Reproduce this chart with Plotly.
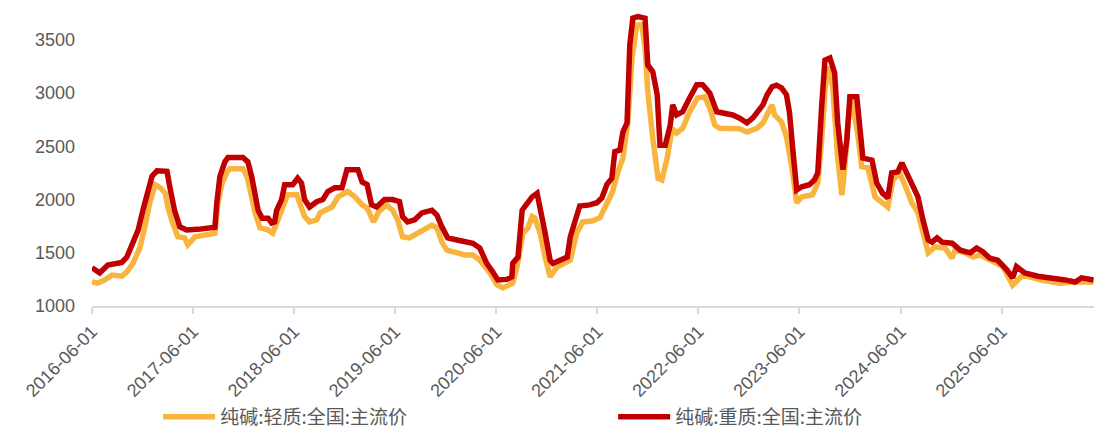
import plotly.graph_objects as go

# 纯碱 light (轻质) national mainstream price
light_dates = [
    "2016-06-01", "2016-06-22", "2016-07-17", "2016-08-12", "2016-09-17", "2016-10-05",
    "2016-10-27", "2016-11-22", "2016-12-09", "2016-12-27", "2017-01-15", "2017-02-03",
    "2017-02-21", "2017-03-02", "2017-03-19", "2017-04-07", "2017-05-02", "2017-05-13",
    "2017-06-08", "2017-07-13", "2017-08-12", "2017-08-19", "2017-08-30", "2017-09-14",
    "2017-10-02", "2017-10-12", "2017-11-28", "2017-12-13", "2017-12-30", "2018-01-11",
    "2018-01-29", "2018-02-27", "2018-03-16", "2018-03-30", "2018-04-17", "2018-05-09",
    "2018-06-11", "2018-06-21", "2018-07-09", "2018-07-27", "2018-08-22", "2018-09-03",
    "2018-09-28", "2018-10-16", "2018-11-07", "2018-12-12", "2019-01-07", "2019-02-02",
    "2019-02-20", "2019-03-08", "2019-03-15", "2019-04-03", "2019-05-01", "2019-05-23",
    "2019-06-10", "2019-06-28", "2019-07-23", "2019-08-22", "2019-09-16", "2019-10-12",
    "2019-10-30", "2019-11-17", "2019-12-05", "2020-01-03", "2020-02-09", "2020-03-08",
    "2020-04-02", "2020-05-09", "2020-06-03", "2020-06-24", "2020-07-30", "2020-08-14",
    "2020-09-05", "2020-09-23", "2020-10-08", "2020-10-18", "2020-11-06", "2020-11-24",
    "2020-12-12", "2021-01-06", "2021-01-28", "2021-02-23", "2021-03-18", "2021-04-09",
    "2021-05-15", "2021-06-10", "2021-07-08", "2021-07-26", "2021-08-14", "2021-09-01",
    "2021-09-19", "2021-10-04", "2021-10-21", "2021-11-09", "2021-11-20", "2021-11-30",
    "2021-12-18", "2022-01-06", "2022-01-20", "2022-02-08", "2022-02-26", "2022-03-14",
    "2022-04-05", "2022-04-30", "2022-05-29", "2022-06-24", "2022-07-12", "2022-07-30",
    "2022-08-17", "2022-10-28", "2022-11-23", "2022-12-29", "2023-01-20", "2023-02-08",
    "2023-02-22", "2023-03-03", "2023-03-28", "2023-04-15", "2023-05-04", "2023-05-22",
    "2023-06-09", "2023-07-18", "2023-08-06", "2023-08-20", "2023-09-01", "2023-09-12",
    "2023-09-29", "2023-10-17", "2023-11-01", "2023-11-12", "2023-11-23", "2023-12-07",
    "2023-12-28", "2024-01-12", "2024-02-03", "2024-02-29", "2024-03-24", "2024-04-15",
    "2024-05-04", "2024-05-28", "2024-06-23", "2024-07-11", "2024-08-02", "2024-08-20",
    "2024-09-08", "2024-10-03", "2024-11-08", "2024-12-03", "2024-12-14", "2025-01-19",
    "2025-02-18", "2025-03-13", "2025-04-18", "2025-06-05", "2025-07-10", "2025-08-16",
    "2025-10-17", "2025-12-28", "2026-02-14", "2026-04-04", "2026-04-28",
]
light_price = [
    1225, 1215, 1245, 1290, 1280, 1320,
    1400, 1555, 1745, 1970, 2140, 2110,
    2060, 1930, 1780, 1650, 1640, 1575,
    1650, 1670, 1685, 1685, 1970, 2155,
    2260, 2290, 2290, 2215, 2025, 1875,
    1735, 1715, 1685, 1780, 1900, 2045,
    2045, 1970, 1840, 1790, 1810, 1875,
    1900, 1930, 2025, 2075, 2025, 1950,
    1920, 1810, 1790, 1885, 1950, 1900,
    1810, 1650, 1640, 1685, 1715, 1760,
    1735, 1600, 1525, 1500, 1480, 1480,
    1430, 1310, 1200, 1170, 1215, 1365,
    1685, 1735, 1840, 1825, 1685, 1460,
    1275, 1365, 1400, 1430, 1685, 1790,
    1800, 1830, 1980, 2075, 2260, 2390,
    2730, 3330, 3640, 3640, 3425, 3010,
    2580, 2200, 2185, 2390, 2670, 2625,
    2670, 2825, 2955, 2965, 2860, 2700,
    2670, 2665, 2635, 2670, 2720, 2815,
    2890, 2795, 2730, 2590, 2310, 1970,
    2025, 2045, 2155, 2560, 3030, 3250,
    3060, 2400, 2040, 2310, 2720, 2935,
    2625, 2310, 2300, 2025, 1970, 1930,
    2185, 2250, 2090, 1970, 1875, 1685,
    1500, 1555, 1545, 1450, 1525, 1500,
    1460, 1480, 1430, 1370, 1195, 1290,
    1245, 1215, 1225, 1225, 1225,
]

# 纯碱 heavy (重质) national mainstream price
heavy_dates = [
    "2016-06-01", "2016-06-29", "2016-07-28", "2016-09-17", "2016-10-05", "2016-10-27",
    "2016-11-15", "2016-12-02", "2016-12-20", "2017-01-04", "2017-01-22", "2017-02-27",
    "2017-03-09", "2017-03-26", "2017-04-14", "2017-05-09", "2017-06-18", "2017-07-20",
    "2017-08-19", "2017-08-26", "2017-09-06", "2017-09-24", "2017-10-05", "2017-11-28",
    "2017-12-16", "2017-12-30", "2018-01-11", "2018-01-22", "2018-02-06", "2018-02-27",
    "2018-03-12", "2018-03-23", "2018-03-30", "2018-04-17", "2018-04-28", "2018-05-27",
    "2018-06-14", "2018-06-28", "2018-07-09", "2018-07-27", "2018-08-22", "2018-09-13",
    "2018-10-01", "2018-10-26", "2018-11-21", "2018-12-09", "2019-01-18", "2019-02-02",
    "2019-02-20", "2019-03-08", "2019-03-26", "2019-04-24", "2019-05-23", "2019-06-17",
    "2019-06-28", "2019-07-16", "2019-08-11", "2019-09-06", "2019-10-12", "2019-10-30",
    "2019-11-17", "2019-12-08", "2020-01-11", "2020-02-09", "2020-03-08", "2020-04-02",
    "2020-04-27", "2020-05-19", "2020-06-06", "2020-07-09", "2020-07-27", "2020-07-30",
    "2020-08-18", "2020-09-02", "2020-09-20", "2020-10-08", "2020-10-26", "2020-11-06",
    "2020-11-24", "2020-12-12", "2020-12-22", "2021-01-17", "2021-02-12", "2021-02-23",
    "2021-03-11", "2021-03-29", "2021-05-04", "2021-05-30", "2021-06-17", "2021-07-05",
    "2021-07-23", "2021-08-03", "2021-08-21", "2021-09-01", "2021-09-16", "2021-09-26",
    "2021-10-07", "2021-10-25", "2021-11-20", "2021-11-30", "2021-12-18", "2022-01-03",
    "2022-01-13", "2022-02-01", "2022-02-19", "2022-02-28", "2022-03-14", "2022-04-05",
    "2022-04-30", "2022-05-26", "2022-06-16", "2022-07-12", "2022-08-06", "2022-08-24",
    "2022-10-03", "2022-10-28", "2022-11-23", "2022-12-14", "2023-01-02", "2023-01-20",
    "2023-02-04", "2023-02-22", "2023-03-10", "2023-03-28", "2023-04-15", "2023-04-26",
    "2023-05-08", "2023-05-22", "2023-06-09", "2023-07-07", "2023-07-25", "2023-08-06",
    "2023-08-20", "2023-09-01", "2023-09-19", "2023-10-06", "2023-10-17", "2023-11-05",
    "2023-11-19", "2023-11-30", "2023-12-25", "2024-01-06", "2024-01-16", "2024-02-18",
    "2024-03-06", "2024-03-27", "2024-04-15", "2024-04-29", "2024-05-21", "2024-06-05",
    "2024-06-23", "2024-07-11", "2024-08-02", "2024-08-20", "2024-09-08", "2024-09-22",
    "2024-10-10", "2024-10-28", "2024-12-03", "2025-01-02", "2025-02-07", "2025-03-02",
    "2025-03-24", "2025-04-18", "2025-05-17", "2025-06-19", "2025-07-10", "2025-07-24",
    "2025-08-23", "2025-10-09", "2025-12-10", "2026-01-15", "2026-02-21", "2026-03-16",
    "2026-04-28",
]
heavy_price = [
    1360, 1310, 1385, 1410, 1460, 1590,
    1715, 1900, 2060, 2220, 2270, 2265,
    2120, 1900, 1745, 1715, 1720, 1730,
    1740, 1970, 2215, 2355, 2395, 2395,
    2355, 2215, 2060, 1900, 1825, 1825,
    1780, 1790, 1900, 2000, 2140, 2140,
    2200, 2155, 2000, 1930, 1980, 2000,
    2075, 2110, 2110, 2280, 2280, 2165,
    2140, 1950, 1930, 2000, 2000, 1980,
    1840, 1790, 1810, 1875, 1900, 1855,
    1745, 1640, 1620, 1600, 1590, 1545,
    1400, 1320, 1245, 1250, 1275, 1400,
    1460, 1900, 1970, 2025, 2060, 1930,
    1685, 1430, 1400, 1430, 1460, 1650,
    1810, 1940, 1950, 1970, 2015, 2140,
    2200, 2450, 2465, 2635, 2720, 3455,
    3705, 3720, 3705, 3265, 3200, 2985,
    2510, 2510, 2700, 2890, 2795, 2825,
    2955, 3080, 3080, 3000, 2825, 2815,
    2795, 2765, 2720, 2765, 2840, 2890,
    2985, 3060, 3075, 3050, 2985, 2815,
    2465, 2090, 2120, 2140, 2185, 2250,
    2870, 3310, 3330, 3190, 2720, 2280,
    2560, 2965, 2965, 2685, 2390, 2370,
    2155, 2060, 2015, 2250, 2260, 2345,
    2250, 2155, 2025, 1810, 1620, 1600,
    1640, 1600, 1590, 1525, 1500, 1545,
    1510, 1450, 1430, 1340, 1265, 1370,
    1310, 1280, 1265, 1245, 1225, 1265,
    1245,
]

x_ticks = ["2016-06-01", "2017-06-01", "2018-06-01", "2019-06-01", "2020-06-01",
           "2021-06-01", "2022-06-01", "2023-06-01", "2024-06-01", "2025-06-01"]

fig = go.Figure()
fig.add_trace(go.Scatter(x=light_dates, y=light_price, name="纯碱:轻质:全国:主流价",
                         mode="lines", line=dict(color="#F8B43C", width=5.5)))
fig.add_trace(go.Scatter(x=heavy_dates, y=heavy_price, name="纯碱:重质:全国:主流价",
                         mode="lines", line=dict(color="#C00000", width=5.5)))

fig.update_layout(
    width=1094, height=431,
    paper_bgcolor="white", plot_bgcolor="white",
    font=dict(family="Liberation Sans, Noto Sans CJK SC", size=18, color="#595959"),
    margin=dict(l=92, r=0, t=8, b=125, autoexpand=False),
    showlegend=True,
    legend=dict(orientation="h", x=0.066, xanchor="left", y=-0.372, yanchor="middle",
                entrywidth=388, entrywidthmode="pixels", itemwidth=52,
                font=dict(family="Noto Sans CJK SC", size=19, color="#595959"),
                bgcolor="rgba(0,0,0,0)"),
)
fig.update_xaxes(
    type="date", range=["2016-06-01", "2026-04-30"],
    tickvals=x_ticks, ticktext=x_ticks, tickangle=-45,
    showgrid=False, showline=True, linecolor="#D9D9D9", linewidth=2,
    ticks="outside", ticklen=6, tickcolor="#D9D9D9", tickwidth=2,
    tickfont=dict(size=18),
)
fig.update_yaxes(
    range=[1000, 3800], tickvals=[1000, 1500, 2000, 2500, 3000, 3500],
    showgrid=False, zeroline=False, showline=False, ticks="",
    ticklabelstandoff=16, tickfont=dict(size=18),
)

# drop the page's default body margin so the figure sits at the window's corner
fig.write_html("out.html", config={"displayModeBar": False},
               post_script="document.body.style.margin='0px';")
